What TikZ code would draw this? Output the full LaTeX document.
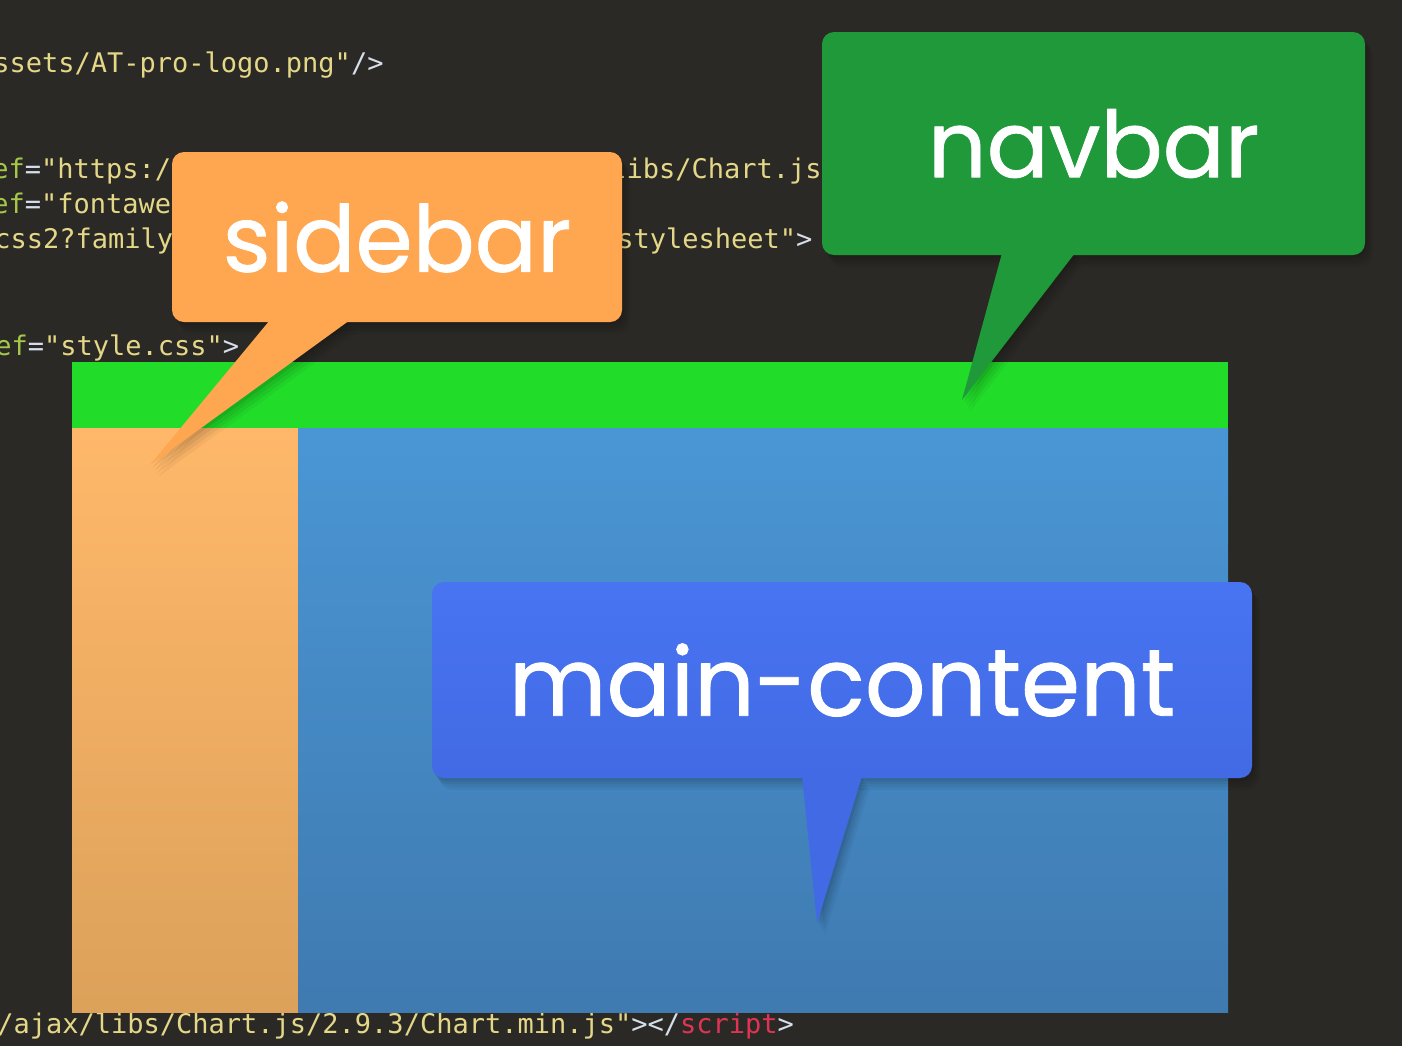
\documentclass[tikz,border=0pt]{standalone}
\usepackage{fontspec}
\usepackage{tikz}
\usetikzlibrary{calc,shadows,positioning}

\newfontfamily\codefont{DejaVu Sans Mono}
\newfontfamily\tagfont{Poppins}[FakeBold=0.9]

\definecolor{bgdark}{RGB}{43,41,37}
\definecolor{codestr}{RGB}{228,216,136}
\definecolor{codeattr}{RGB}{166,200,72}
\definecolor{codepun}{RGB}{214,222,235}
\definecolor{codetag}{RGB}{224,52,86}
\definecolor{navgreen}{RGB}{34,220,42}
\definecolor{sideorange}{RGB}{255,184,106}
\definecolor{sideorangedark}{RGB}{220,161,90}
\definecolor{mainblue}{RGB}{74,150,213}
\definecolor{mainbluedark}{RGB}{63,122,176}
\definecolor{tagorange}{RGB}{255,166,80}
\definecolor{taggreen}{RGB}{31,153,58}
\definecolor{tagblue}{RGB}{72,116,242}
\definecolor{tagbluedark}{RGB}{66,106,228}

\tikzset{
  code/.style={anchor=base west, inner sep=0pt, text=codestr,
    font=\codefont\fontsize{13.5}{16}\selectfont},
  block/.style={inner sep=0pt, outer sep=0pt},
  softshadow/.style={
    general shadow={fill=black, opacity=0.07, shadow xshift=1pt, shadow yshift=-1.5pt},
    general shadow={fill=black, opacity=0.06, shadow xshift=2pt, shadow yshift=-3pt},
    general shadow={fill=black, opacity=0.05, shadow xshift=3pt, shadow yshift=-4.5pt},
    general shadow={fill=black, opacity=0.04, shadow xshift=4pt, shadow yshift=-6pt}},
  tag/.style={rounded corners=6pt, inner sep=0pt, outer sep=0pt, text=white,
    font=\tagfont\fontsize{46}{56}\selectfont, softshadow},
  tail/.style={softshadow}
}

\begin{document}
\begin{tikzpicture}[x=0.5pt, y=-0.5pt, line join=round]
    % Page frame
    \fill[bgdark] (0,0) rectangle (1402,1046);
    \useasboundingbox (0,0) rectangle (1402,1046);

    % Code lines behind the layout
    \node[code] (codeA) at (-7,72) {ssets/AT-pro-logo.png"\textcolor{codepun}{/>}};
    \node[code] (codeB) at (-8,178) {\textcolor{codeattr}{ef}\textcolor{codepun}{=}"https:/};
    \node[code] (codeC) at (610,178) {libs/Chart.js};
    \node[code] (codeD) at (-8,213) {\textcolor{codeattr}{ef}\textcolor{codepun}{=}"fontawe};
    \node[code] (codeE) at (-6,248) {css2?family};
    \node[code] (codeF) at (617,248) {stylesheet"\textcolor{codepun}{>}};
    \node[code] (codeG) at (-5,355) {\textcolor{codeattr}{ef}\textcolor{codepun}{=}"style.css"\textcolor{codepun}{>}};
    \node[code] (codeH) at (-3,1033) {/ajax/libs/Chart.js/2.9.3/Chart.min.js"\textcolor{codepun}{></}\textcolor{codetag}{script}\textcolor{codepun}{>}};

    % Page layout blocks
    \node[block, fill=navgreen, minimum width=578pt, minimum height=33pt] (navstrip) at (650,395) {};
    \node[block, anchor=north west, top color=sideorange, bottom color=sideorangedark,
          minimum width=113pt, minimum height=292pt] (sidecol) at (navstrip.south west) {};
    \node[block, anchor=north west, top color=mainblue, bottom color=mainbluedark,
          minimum width=465pt, minimum height=292pt] (maincol) at (sidecol.north east) {};

    % Tips of the callouts
    \coordinate (sidetip) at (150,465);
    \coordinate (navtip) at (962,400);
    \coordinate (maintip) at (817,923);

    % sidebar callout
    \node[tag, fill=tagorange, minimum width=225pt, minimum height=85pt] (sidebartag) at (397,237) {sidebar};
    \fill[tagorange, tail] ($(sidebartag.south west)+(98,-2)$) -- (sidetip)
        -- ($(sidebartag.south west)+(178,-2)$) -- cycle;

    % navbar callout
    \node[tag, fill=taggreen, minimum width=271.5pt, minimum height=111.5pt] (navbartag) at (1093.5,143.5) {navbar};
    \fill[taggreen, tail] ($(navbartag.south west)+(180,-2)$) -- (navtip)
        -- ($(navbartag.south west)+(253,-2)$) -- cycle;

    % main-content callout
    \node[tag, top color=tagblue, bottom color=tagbluedark, minimum width=410pt, minimum height=98pt,
          font=\tagfont\fontsize{47.5}{56}\selectfont] (maintag) at (842,680) {main-content};
    \fill[tagbluedark, tail] ($(maintag.south west)+(370,-2)$) -- (maintip)
        -- ($(maintag.south west)+(430,-2)$) -- cycle;
\end{tikzpicture}
\end{document}
